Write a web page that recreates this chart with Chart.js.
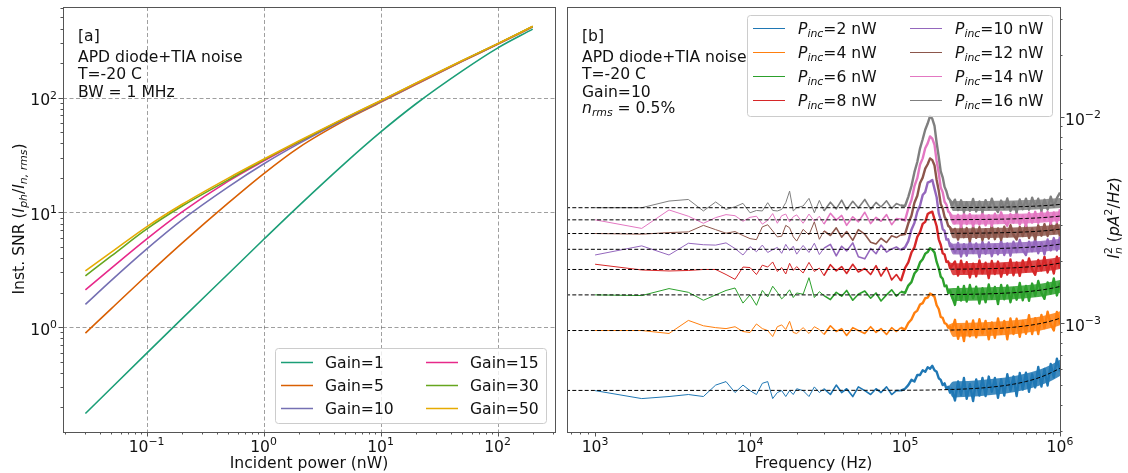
<!DOCTYPE html>
<html>
<head>
<meta charset="utf-8">
<script src="https://cdn.jsdelivr.net/npm/chart.js@4.4.1/dist/chart.umd.min.js"></script>
<style>
html, body { margin: 0; padding: 0; background: #fff; }
#wrap { position: relative; width: 1128px; height: 473px; }
.panel { position: absolute; top: 0; width: 564px; height: 473px; }
</style>
</head>
<body>
<div id="wrap">
  <div class="panel" style="left:0"><canvas id="snrChart"></canvas></div>
  <div class="panel" style="left:564px"><canvas id="noiseChart"></canvas></div>
</div>
<script>
// ---- [a] SNR vs incident power ----
const powerNW = [0.03, 0.05, 0.1, 0.2, 0.5, 1, 2, 5, 10, 20, 50, 100, 200];
const gains = [1, 5, 10, 15, 30, 50];
const snrGain1  = [0.177, 0.295, 0.59, 1.18, 2.92, 5.8, 11.4, 27, 50, 88, 171, 270, 395];
const snrGain5  = [0.887, 1.45, 2.82, 5.37, 12.1, 21.7, 36.7, 63.6, 91, 130, 207, 291, 414];
const snrGain10 = [1.58, 2.56, 4.79, 8.57, 16.7, 26.4, 39.7, 65.1, 92, 131, 208, 292, 415];
const snrGain15 = [2.11, 3.27, 5.85, 10.05, 18.7, 28.0, 41.0, 66.0, 93, 132, 209, 293, 416];
const snrGain30 = [2.80, 4.17, 7.15, 11.3, 19.2, 28.6, 41.3, 66.3, 93.5, 133, 210, 294, 417];
const snrGain50 = [3.09, 4.50, 7.48, 11.7, 19.9, 29.0, 41.9, 66.9, 94, 133.5, 210.5, 294.5, 418];
const powerTicks = [0.1, 1, 10, 100];
const snrTicks = [1, 10, 100];

// ---- [b] noise spectra (values in 1e-3 pA^2/Hz) ----
const freqKHz = [1,2,3,4,5,6,7,8,9,10,11,12,13,14,15,16,17,18,19,20,
  22,24,26,28,30,33,36,39,42,46,50,55,60,65,70,76,82,88,
  94,100,105,110,115,120,125,130,135,140,145,150,155,160,165,170,175,180,185,190,195,200,
  210,220,230,240,250,262,275,288,302,316,331,347,363,380,398,417,437,457,479,501,
  525,550,575,603,631,661,692,724,759,794,832,871,912,955,1000];
const pincNW = [2, 4, 6, 8, 10, 12, 14, 16];
const noiseP2 = [0.47,0.43,0.44,0.45,0.44,0.50,0.52,0.46,0.50,0.47,0.45,0.51,0.52,0.43,0.46,0.47,0.44,0.47,0.45,0.48,
  0.47,0.44,0.49,0.46,0.48,0.45,0.50,0.46,0.48,0.44,0.49,0.47,0.45,0.48,0.46,0.49,0.45,0.47,
  0.47,0.48,0.50,0.53,0.52,0.56,0.56,0.59,0.58,0.61,0.60,0.62,0.59,0.58,0.54,0.53,0.50,0.51,0.48,0.49,0.46,0.48,
  0.421,0.521,0.447,0.541,0.429,0.505,0.418,0.532,0.445,0.541,0.442,0.550,0.464,0.541,0.434,0.533,0.445,0.564,0.469,0.551,
  0.442,0.572,0.476,0.574,0.464,0.564,0.487,0.612,0.492,0.599,0.498,0.633,0.545,0.671,0.582];
const noiseP4 = [0.92,0.92,0.89,1.03,0.97,0.95,0.94,0.96,0.91,0.90,0.99,0.94,0.92,0.86,0.96,0.98,0.93,1.02,0.90,0.89,
  0.95,0.89,0.96,0.93,0.88,0.97,0.91,0.94,0.87,0.95,0.92,0.89,0.96,0.90,0.94,0.88,0.95,0.91,
  0.95,0.93,1.00,1.04,1.12,1.15,1.23,1.25,1.32,1.33,1.39,1.37,1.34,1.22,1.17,1.07,1.06,1.00,0.99,0.95,0.96,0.92,
  1.037,0.838,0.971,0.817,1.017,0.862,1.030,0.853,1.044,0.889,1.025,0.835,1.006,0.849,1.054,0.886,1.025,0.834,1.054,0.885,
  1.049,0.857,1.023,0.888,1.091,0.885,1.056,0.884,1.094,0.945,1.135,0.985,0.921,1.131,0.992];
const noiseP6 = [1.37,1.36,1.47,1.41,1.29,1.37,1.44,1.48,1.25,1.37,1.22,1.44,1.34,1.51,1.41,1.31,1.37,1.45,1.33,1.40,
  1.38,1.66,1.33,1.42,1.36,1.30,1.41,1.35,1.44,1.29,1.38,1.43,1.32,1.40,1.28,1.37,1.45,1.35,
  1.42,1.40,1.52,1.58,1.74,1.81,1.97,2.04,2.17,2.21,2.31,2.27,2.20,1.98,1.85,1.68,1.64,1.51,1.52,1.40,1.44,1.36,
  1.225,1.498,1.286,1.514,1.272,1.531,1.319,1.503,1.245,1.475,1.263,1.538,1.312,1.496,1.238,1.531,1.304,1.521,1.262,1.481,
  1.299,1.566,1.290,1.513,1.283,1.555,1.356,1.600,1.400,1.311,1.576,1.391,1.645,1.362,1.571];
const noiseP8 = [1.93,1.81,1.79,1.80,1.82,1.82,1.72,1.63,1.87,1.86,1.72,1.91,1.87,1.98,1.78,1.86,1.73,1.95,1.80,1.88,
  1.75,1.97,1.78,1.85,1.70,1.92,1.79,1.88,1.74,1.93,1.77,1.84,1.72,1.90,1.69,1.86,1.62,1.72,
  1.60,1.85,1.97,2.20,2.33,2.62,2.76,3.03,3.10,3.38,3.44,3.47,3.19,2.95,2.55,2.40,2.18,2.15,1.98,1.99,1.85,1.89,
  1.990,1.699,2.010,1.755,1.974,1.664,1.940,1.685,2.015,1.742,1.963,1.652,2.003,1.729,1.988,1.677,1.938,1.719,2.036,1.706,
  1.968,1.694,2.014,1.776,2.061,1.823,1.715,2.023,1.803,2.096,1.760,1.999,1.739,2.098,1.838];
const noiseP10 = [2.14,2.37,2.14,2.44,2.40,2.39,2.45,2.30,2.14,2.35,2.22,2.39,2.20,2.27,2.33,2.18,2.41,2.25,2.36,2.16,
  2.38,2.20,2.44,2.15,2.31,2.41,2.12,2.36,2.24,2.45,2.10,2.05,2.30,2.17,2.39,2.21,2.29,2.34,
  2.26,2.33,2.50,2.84,3.06,3.47,3.72,4.18,4.32,4.80,4.86,4.95,4.48,4.08,3.42,3.18,2.86,2.80,2.54,2.55,2.36,2.38,
  2.204,2.451,2.102,2.412,2.123,2.495,2.187,2.435,2.086,2.479,2.171,2.461,2.112,2.402,2.156,2.510,2.140,2.433,2.124,2.481,
  2.213,2.530,2.262,2.140,2.481,2.234,2.556,2.182,2.443,2.152,2.544,2.253,2.586,2.252,2.632];
const noiseP12 = [2.72,2.70,2.75,2.77,2.98,2.84,2.73,2.78,2.66,2.57,2.54,2.93,3.00,2.80,2.62,2.64,2.98,2.90,2.62,2.50,
  2.85,2.68,3.10,2.55,2.80,2.66,2.90,2.61,2.78,2.52,2.84,2.70,2.47,2.42,2.58,2.46,2.65,2.60,
  2.68,2.70,3.05,3.32,3.84,4.15,4.78,5.08,5.62,5.90,6.30,6.18,5.82,4.95,4.40,3.78,3.60,3.28,3.17,2.96,2.92,2.78,
  2.865,2.541,2.959,2.611,2.892,2.497,2.940,2.592,2.918,2.523,2.853,2.572,2.971,2.553,2.881,2.532,2.933,2.630,2.985,2.682,
  2.545,2.927,2.646,3.004,2.585,2.873,2.548,2.981,2.655,3.021,2.644,3.062,2.736,3.036,2.635];
const noiseP14 = [3.17,2.88,3.54,3.30,3.05,3.25,3.36,3.32,3.12,3.26,3.30,3.02,3.15,3.40,3.05,3.32,3.38,3.10,3.28,3.35,
  3.05,3.38,3.12,3.30,3.02,3.41,3.16,3.33,2.98,3.28,3.10,3.45,3.04,3.26,3.12,3.36,3.00,3.22,
  3.20,3.15,3.60,3.95,4.62,5.05,5.88,6.30,7.05,7.45,8.05,7.85,7.32,6.12,5.36,4.55,4.32,3.88,3.76,3.48,3.42,3.22,
  3.049,3.354,2.923,3.407,3.025,3.382,2.951,3.308,3.004,3.438,2.981,3.339,2.958,3.393,3.063,3.448,3.119,2.968,3.380,3.076,
  3.464,3.005,3.318,2.961,3.430,3.074,3.468,3.060,3.508,3.151,3.472,3.036,3.440,3.082,3.569];
const noiseP16 = [3.63,3.63,3.91,3.98,3.50,3.87,3.56,3.67,3.81,3.43,3.52,3.50,3.84,3.52,3.50,3.56,3.84,4.37,3.50,3.63,
  3.70,4.03,3.43,3.94,3.50,3.86,3.58,3.95,3.55,3.90,3.62,3.98,3.57,3.85,3.66,3.92,3.60,3.80,
  3.72,3.70,4.10,4.62,5.40,6.05,7.05,7.80,8.68,9.30,10.1,9.80,9.05,7.50,6.42,5.45,5.10,4.58,4.36,4.05,3.95,3.72,
  3.971,3.535,3.943,3.449,3.856,3.508,4.004,3.481,3.890,3.454,3.951,3.573,4.013,3.634,3.461,3.931,3.583,4.024,3.500,3.855,
  3.447,3.979,3.572,4.017,3.551,4.058,3.651,4.012,3.515,3.968,3.559,4.105,3.667,4.038,4.30];

// dense high-frequency part: upper / lower edge of the noise band
const bandFreqKHz = [188, 205, 220, 300, 400, 500, 600, 700, 800, 900, 1000];
const bandHiP2  = [0.485, 0.521, 0.522, 0.528, 0.539, 0.552, 0.569, 0.587, 0.609, 0.635, 0.663];
const bandLoP2  = [0.485, 0.435, 0.436, 0.441, 0.451, 0.462, 0.475, 0.491, 0.509, 0.530, 0.554];
const bandHiP4  = [0.975, 1.000, 1.002, 1.007, 1.018, 1.031, 1.047, 1.066, 1.087, 1.112, 1.140];
const bandLoP4  = [0.975, 0.856, 0.857, 0.862, 0.871, 0.883, 0.896, 0.912, 0.931, 0.952, 0.976];
const bandHiP6  = [1.47, 1.478, 1.480, 1.486, 1.496, 1.509, 1.525, 1.544, 1.565, 1.590, 1.618];
const bandLoP6  = [1.47, 1.279, 1.280, 1.286, 1.295, 1.306, 1.320, 1.336, 1.354, 1.376, 1.400];
const bandHiP8  = [1.99, 1.951, 1.953, 1.958, 1.969, 1.982, 1.998, 2.016, 2.038, 2.062, 2.090];
const bandLoP8  = [1.99, 1.707, 1.709, 1.714, 1.723, 1.734, 1.748, 1.764, 1.783, 1.804, 1.829];
const bandHiP10 = [2.55, 2.429, 2.431, 2.436, 2.447, 2.460, 2.476, 2.494, 2.515, 2.540, 2.567];
const bandLoP10 = [2.55, 2.150, 2.151, 2.156, 2.166, 2.177, 2.191, 2.207, 2.226, 2.247, 2.272];
const bandHiP12 = [3.06, 2.880, 2.882, 2.888, 2.898, 2.911, 2.927, 2.945, 2.966, 2.990, 3.018];
const bandLoP12 = [3.06, 2.578, 2.579, 2.585, 2.594, 2.605, 2.620, 2.636, 2.655, 2.676, 2.701];
const bandHiP14 = [3.62, 3.356, 3.358, 3.363, 3.374, 3.387, 3.402, 3.420, 3.442, 3.466, 3.493];
const bandLoP14 = [3.62, 3.004, 3.005, 3.010, 3.020, 3.031, 3.045, 3.062, 3.080, 3.102, 3.127];
const bandHiP16 = [4.20, 3.908, 3.909, 3.915, 3.926, 3.939, 3.955, 3.973, 3.995, 4.019, 4.047];
const bandLoP16 = [4.20, 3.495, 3.497, 3.502, 3.512, 3.523, 3.538, 3.554, 3.573, 3.595, 3.620];

// fitted curves (dashed), same units
const fitFreqKHz = [0.65, 100, 200, 300, 400, 500, 600, 700, 800, 900, 1000];
const fitP2  = [0.471, 0.472, 0.476, 0.483, 0.493, 0.505, 0.520, 0.537, 0.557, 0.580, 0.603];
const fitP4  = [0.92, 0.92, 0.925, 0.932, 0.942, 0.954, 0.969, 0.986, 1.006, 1.029, 1.055];
const fitP6  = [1.37, 1.37, 1.375, 1.382, 1.392, 1.404, 1.419, 1.436, 1.456, 1.479, 1.505];
const fitP8  = [1.82, 1.82, 1.825, 1.832, 1.842, 1.854, 1.869, 1.886, 1.906, 1.929, 1.955];
const fitP10 = [2.28, 2.28, 2.285, 2.292, 2.302, 2.314, 2.329, 2.346, 2.366, 2.389, 2.415];
const fitP12 = [2.72, 2.72, 2.725, 2.732, 2.742, 2.754, 2.769, 2.786, 2.806, 2.829, 2.855];
const fitP14 = [3.17, 3.17, 3.175, 3.182, 3.192, 3.204, 3.219, 3.236, 3.256, 3.279, 3.305];
const fitP16 = [3.63, 3.63, 3.635, 3.642, 3.652, 3.664, 3.679, 3.696, 3.716, 3.739, 3.765];
const freqTicks = [1e3, 1e4, 1e5, 1e6];
const noiseTicks = [1e-3, 1e-2];

const snrSeries = [snrGain1, snrGain5, snrGain10, snrGain15, snrGain30, snrGain50];
const noiseSeries = [noiseP2, noiseP4, noiseP6, noiseP8, noiseP10, noiseP12, noiseP14, noiseP16];
const bandHi = [bandHiP2, bandHiP4, bandHiP6, bandHiP8, bandHiP10, bandHiP12, bandHiP14, bandHiP16];
const bandLo = [bandLoP2, bandLoP4, bandLoP6, bandLoP8, bandLoP10, bandLoP12, bandLoP14, bandLoP16];
const fitSeries = [fitP2, fitP4, fitP6, fitP8, fitP10, fitP12, fitP14, fitP16];
const gainColors = ['#1b9e77', '#d95f02', '#7570b3', '#e7298a', '#66a61e', '#e6ab02'];
const pincColors = ['#1f77b4', '#ff7f0e', '#2ca02c', '#d62728', '#9467bd', '#8c564b', '#e377c2', '#7f7f7f'];

function rgba(hex, a) {
  const n = parseInt(hex.slice(1), 16);
  return 'rgba(' + (n >> 16) + ',' + ((n >> 8) & 255) + ',' + (n & 255) + ',' + a + ')';
}

// ---- text helpers ----
const FONT = '"DejaVu Sans", Verdana, sans-serif';
const FS = 15.6;
const AXIS_COL = '#555';
const TXT = '#111';

function setFont(ctx, size, it) {
  ctx.font = (it ? 'italic ' : '') + size.toFixed(1) + 'px ' + FONT;
}

// parts: {t, it, sub, sup, keep}
function richText(ctx, parts, x, yMid, align) {
  const sz = p => (p.sub || p.sup) ? FS * 0.7 : FS;
  let w = 0;
  parts.forEach(p => { setFont(ctx, sz(p), p.it); if (!p.keep) w += ctx.measureText(p.t).width; });
  let cx = align === 'center' ? x - w / 2 : (align === 'right' ? x - w : x);
  const base = yMid + FS * 0.36;
  ctx.textAlign = 'left';
  ctx.textBaseline = 'alphabetic';
  ctx.fillStyle = TXT;
  parts.forEach(p => {
    setFont(ctx, sz(p), p.it);
    const dy = p.sub ? FS * 0.22 : (p.sup ? -FS * 0.42 : 0);
    ctx.fillText(p.t, cx, base + dy);
    if (!p.keep) cx += ctx.measureText(p.t).width;
  });
}

function powLabel(v) {
  const e = Math.round(Math.log10(v));
  return [{ t: '10' }, { t: e < 0 ? '\u2212' + (-e) : String(e), sup: true }];
}

function minorTicks(lo, hi) {
  const out = [];
  for (let d = Math.floor(Math.log10(lo)); d <= Math.ceil(Math.log10(hi)); d++) {
    for (let m = 2; m <= 9; m++) {
      const v = m * Math.pow(10, d);
      if (v >= lo && v <= hi) out.push(v);
    }
  }
  return out;
}

function drawFrame(ctx, a) {
  ctx.save();
  ctx.strokeStyle = AXIS_COL;
  ctx.lineWidth = 1;
  ctx.strokeRect(Math.round(a.left) + 0.5, Math.round(a.top) + 0.5,
    Math.round(a.right - a.left), Math.round(a.bottom - a.top));
  ctx.restore();
}

function tickMarks(ctx, scale, vals, len, side, a) {
  ctx.beginPath();
  vals.forEach(v => {
    const p = Math.round(scale.getPixelForValue(v)) + 0.5;
    if (side === 'bottom') { ctx.moveTo(p, a.bottom); ctx.lineTo(p, a.bottom + len); }
    if (side === 'left') { ctx.moveTo(a.left, p); ctx.lineTo(a.left - len, p); }
    if (side === 'right') { ctx.moveTo(a.right, p); ctx.lineTo(a.right + len, p); }
  });
  ctx.stroke();
}

function legendBox(ctx, x, y, w, h) {
  ctx.save();
  ctx.beginPath();
  ctx.roundRect(x + 0.5, y + 0.5, w, h, 3);
  ctx.fillStyle = 'rgba(255,255,255,0.8)';
  ctx.fill();
  ctx.strokeStyle = '#cccccc';
  ctx.lineWidth = 1;
  ctx.stroke();
  ctx.restore();
}

function legendLine(ctx, x1, x2, y, color, w) {
  ctx.save();
  ctx.strokeStyle = color;
  ctx.lineWidth = w;
  ctx.beginPath();
  ctx.moveTo(x1, y + 0.5);
  ctx.lineTo(x2, y + 0.5);
  ctx.stroke();
  ctx.restore();
}

// ---- panel [a] decorations ----
const snrDecor = {
  id: 'snrDecor',
  beforeDatasetsDraw(chart) {
    const { ctx, chartArea: a, scales: { x, y } } = chart;
    ctx.save();
    ctx.strokeStyle = 'rgba(0,0,0,0.42)';
    ctx.lineWidth = 0.9;
    ctx.setLineDash([4, 2.5]);
    ctx.beginPath();
    powerTicks.forEach(v => { const p = Math.round(x.getPixelForValue(v)) + 0.5; ctx.moveTo(p, a.top); ctx.lineTo(p, a.bottom); });
    snrTicks.forEach(v => { const p = Math.round(y.getPixelForValue(v)) + 0.5; ctx.moveTo(a.left, p); ctx.lineTo(a.right, p); });
    ctx.stroke();
    ctx.restore();
  },
  afterDraw(chart) {
    const { ctx, chartArea: a, scales: { x, y } } = chart;
    ctx.save();
    drawFrame(ctx, a);
    ctx.strokeStyle = AXIS_COL;
    ctx.lineWidth = 1;
    tickMarks(ctx, x, powerTicks, 4.5, 'bottom', a);
    tickMarks(ctx, x, minorTicks(x.min, x.max), 2.5, 'bottom', a);
    tickMarks(ctx, y, snrTicks, 4.5, 'left', a);
    tickMarks(ctx, y, minorTicks(y.min, y.max), 2.5, 'left', a);

    powerTicks.forEach(v => richText(ctx, powLabel(v), x.getPixelForValue(v), 446, 'center'));
    snrTicks.forEach(v => richText(ctx, powLabel(v), 57, y.getPixelForValue(v) + 2, 'right'));

    richText(ctx, [{ t: 'Incident power (nW)' }], (a.left + a.right) / 2, 462, 'center');
    ctx.save();
    ctx.translate(18, 219);
    ctx.rotate(-Math.PI / 2);
    richText(ctx, [{ t: 'Inst. SNR (' }, { t: 'I', it: 1 }, { t: 'ph', it: 1, sub: 1 }, { t: '/' },
      { t: 'I', it: 1 }, { t: 'n, rms', it: 1, sub: 1 }, { t: ')' }], 0, 0, 'center');
    ctx.restore();

    richText(ctx, [{ t: '[a]' }], 78, 35, 'left');
    ['APD diode+TIA noise', 'T=-20 C', 'BW = 1 MHz'].forEach((s, i) =>
      richText(ctx, [{ t: s }], 78, 56.5 + i * 17.2, 'left'));

    // legend, two columns, column-major
    legendBox(ctx, 275, 348, 271, 75);
    gains.forEach((g, i) => {
      const col = Math.floor(i / 3), row = i % 3;
      const ly = 362 + row * 23;
      const lx = col === 0 ? 281 : 426;
      legendLine(ctx, lx, lx + 32, ly, gainColors[i], 1.5);
      richText(ctx, [{ t: 'Gain=' + g }], lx + 44, ly, 'left');
    });
    ctx.restore();
  }
};

// ---- panel [b] decorations ----
const noiseDecor = {
  id: 'noiseDecor',
  afterDraw(chart) {
    const { ctx, chartArea: a, scales: { x, y } } = chart;
    ctx.save();
    drawFrame(ctx, a);
    ctx.strokeStyle = AXIS_COL;
    ctx.lineWidth = 1;
    tickMarks(ctx, x, freqTicks, 4.5, 'bottom', a);
    tickMarks(ctx, x, minorTicks(x.min, x.max), 2.5, 'bottom', a);
    tickMarks(ctx, y, noiseTicks, 4.5, 'right', a);
    tickMarks(ctx, y, minorTicks(y.min, y.max), 2.5, 'right', a);

    freqTicks.forEach(v => richText(ctx, powLabel(v), x.getPixelForValue(v), 446, 'center'));
    noiseTicks.forEach(v => richText(ctx, powLabel(v), a.right + 5, y.getPixelForValue(v) + 2, 'left'));

    richText(ctx, [{ t: 'Frequency (Hz)' }], (a.left + a.right) / 2, 462, 'center');
    ctx.save();
    ctx.translate(549, 218);
    ctx.rotate(-Math.PI / 2);
    richText(ctx, [{ t: 'I', it: 1 }, { t: 'n', it: 1, sub: 1, keep: 1 }, { t: '2', sup: 1 }, { t: ' (' },
      { t: 'pA', it: 1 }, { t: '2', sup: 1 }, { t: '/' }, { t: 'Hz', it: 1 }, { t: ')' }], 0, 0, 'center');
    ctx.restore();

    const tx = 18;
    richText(ctx, [{ t: '[b]' }], tx, 35, 'left');
    ['APD diode+TIA noise', 'T=-20 C', 'Gain=10'].forEach((s, i) =>
      richText(ctx, [{ t: s }], tx, 56.5 + i * 17.2, 'left'));
    richText(ctx, [{ t: 'n', it: 1 }, { t: 'rms', it: 1, sub: 1 }, { t: ' = 0.5%' }], tx, 107, 'left');

    legendBox(ctx, 183, 15, 305, 101);
    pincNW.forEach((p, i) => {
      const col = Math.floor(i / 4), row = i % 4;
      const ly = 28 + row * 24;
      const lx = col === 0 ? 189 : 346;
      legendLine(ctx, lx, lx + 32, ly, pincColors[i], 1);
      richText(ctx, [{ t: 'P', it: 1 }, { t: 'inc', it: 1, sub: 1 }, { t: '=' + p + ' nW' }], lx + 45, ly, 'left');
    });
    ctx.restore();
  }
};

// ---- charts ----
new Chart(document.getElementById('snrChart'), {
  type: 'line',
  data: {
    datasets: gains.map((g, i) => ({
      label: 'Gain=' + g,
      data: powerNW.map((p, k) => ({ x: p, y: snrSeries[i][k] })),
      borderColor: gainColors[i],
      borderWidth: 1.6,
      pointRadius: 0,
      cubicInterpolationMode: 'monotone',
      fill: false,
      order: gains.length - 1 - i
    }))
  },
  options: {
    responsive: true,
    maintainAspectRatio: false,
    animation: false,
    layout: { padding: { left: 63, right: 9, top: 7, bottom: 41 } },
    scales: {
      x: { type: 'logarithmic', min: 0.0193, max: 310, display: false },
      y: { type: 'logarithmic', min: 0.122, max: 616, display: false }
    },
    plugins: { legend: { display: false }, tooltip: { enabled: false } }
  },
  plugins: [snrDecor]
});

// line gets heavier where the measured spectrum is dense
function segWidth(c) {
  const f = c.p0.parsed.x;
  if (f >= 9e4) return 2.4;
  if (f >= 3e4) return 1.6;
  return 1;
}

const noiseSets = [];
pincNW.forEach((p, i) => {
  noiseSets.push({
    label: 'band hi ' + p,
    data: bandFreqKHz.map((f, k) => ({ x: f * 1e3, y: bandHi[i][k] * 1e-3 })),
    borderWidth: 0,
    pointRadius: 0,
    cubicInterpolationMode: 'monotone',
    backgroundColor: rgba(pincColors[i], 0.85),
    fill: '+1',
    order: 41 - 2 * i
  });
  noiseSets.push({
    label: 'band lo ' + p,
    data: bandFreqKHz.map((f, k) => ({ x: f * 1e3, y: bandLo[i][k] * 1e-3 })),
    borderWidth: 0,
    pointRadius: 0,
    cubicInterpolationMode: 'monotone',
    fill: false,
    order: 41 - 2 * i
  });
  noiseSets.push({
    label: 'Pinc=' + p + ' nW',
    data: freqKHz.map((f, k) => ({ x: f * 1e3, y: noiseSeries[i][k] * 1e-3 })),
    borderColor: pincColors[i],
    borderWidth: 1,
    borderJoinStyle: 'round',
    segment: { borderWidth: segWidth },
    pointRadius: 0,
    tension: 0,
    fill: false,
    order: 40 - 2 * i
  });
});
pincNW.forEach((p, i) => {
  noiseSets.push({
    label: 'fit ' + p,
    data: fitFreqKHz.map((f, k) => ({ x: f * 1e3, y: fitSeries[i][k] * 1e-3 })),
    borderColor: '#000',
    borderWidth: 1,
    borderDash: [4, 2.2],
    pointRadius: 0,
    cubicInterpolationMode: 'monotone',
    fill: false,
    order: 0
  });
});

new Chart(document.getElementById('noiseChart'), {
  type: 'line',
  data: { datasets: noiseSets },
  options: {
    responsive: true,
    maintainAspectRatio: false,
    animation: false,
    layout: { padding: { left: 3, right: 68, top: 7, bottom: 41 } },
    scales: {
      x: { type: 'logarithmic', min: 659, max: 1e6, display: false },
      y: { type: 'logarithmic', min: 2.96e-4, max: 0.0342, display: false }
    },
    plugins: { legend: { display: false }, tooltip: { enabled: false } }
  },
  plugins: [noiseDecor]
});
</script>
</body>
</html>
